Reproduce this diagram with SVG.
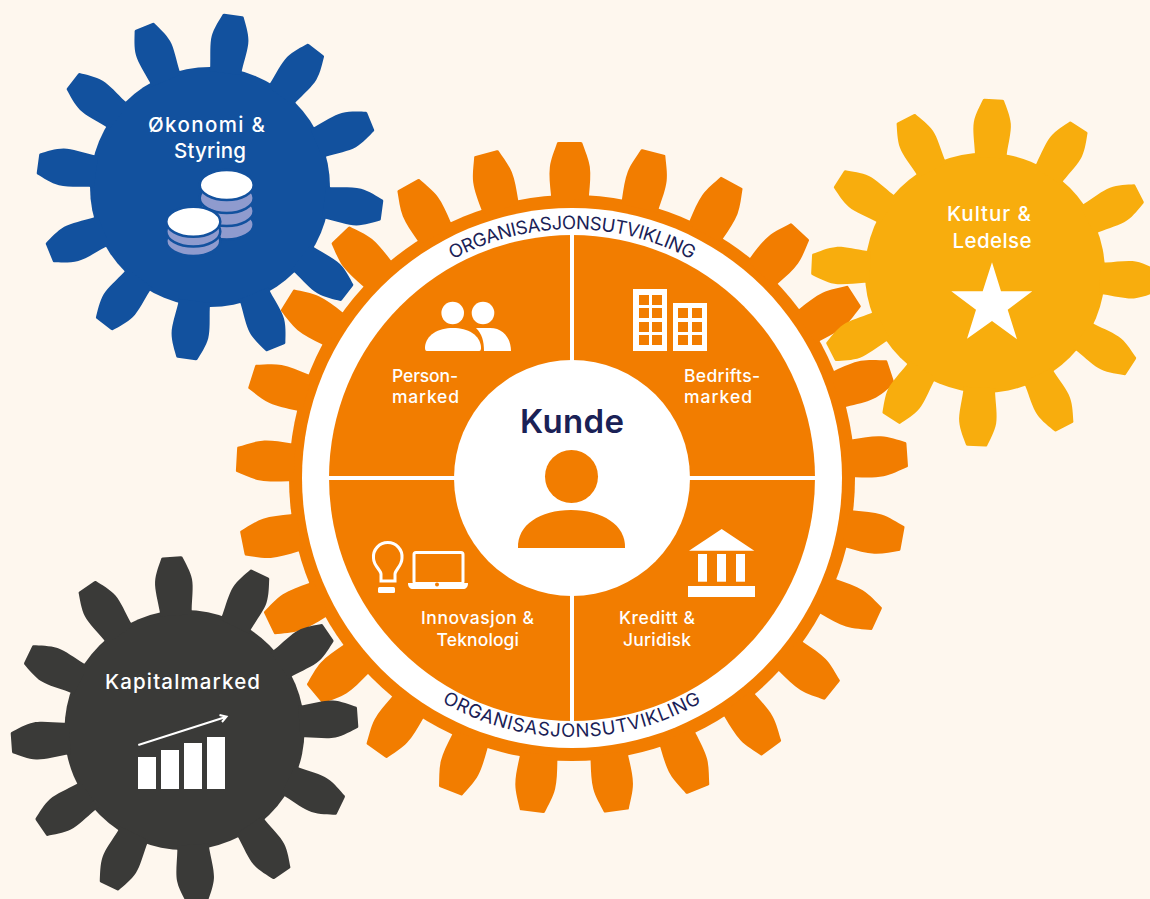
<svg xmlns="http://www.w3.org/2000/svg" xmlns:xlink="http://www.w3.org/1999/xlink" width="1150" height="899" viewBox="0 0 1150 899">
<style>
.lb{font-family:"Inter","Liberation Sans",sans-serif;font-weight:500;fill:#fff}
.s{font-size:17.5px}
.m{font-size:20.5px}
.ring{font-family:"Inter","Liberation Sans",sans-serif;font-size:18.5px;fill:#1a2156}
.w{fill:#fff}
.o{fill:#f27d00}
.pc{fill:#8f9bce;stroke:#12519e;stroke-width:2.500}
</style>
<defs>
<path id="mt" d="M-19,-278L-19,-283C-20,-293 -21,-303 -20,-311C-19,-319 -15,-328 -12.500,-335.500Q-12,-336 -11,-336L11,-336Q12,-336 12.500,-335.500C15,-328 19,-319 20,-311C21,-303 20,-293 19,-283L19,-278Z"/>
<path id="st" d="M-16,-115L-16,-120C-17,-130 -19.500,-142 -18.500,-150C-17.500,-158 -13,-167 -10.500,-173Q-10,-173.600 -9,-173.600L9,-173.600Q10,-173.600 10.500,-173C13,-167 17.500,-158 18.500,-150C19.500,-142 17,-130 16,-120L16,-115Z"/>
<path id="arcTop" d="M323,478A249,249 0 0 1 821,478"/>
<path id="arcBot" d="M313,478A259,259 0 0 0 831,478"/>
</defs>
<rect width="1150" height="899" fill="#fef7ee"/>
<g id="gear-kunde">
<g class="o" transform="translate(572,478)">
<circle r="283"/>
<use href="#mt" transform="rotate(-0.4)"/><use href="#mt" transform="rotate(14)"/><use href="#mt" transform="rotate(28.4)"/><use href="#mt" transform="rotate(42.8)"/><use href="#mt" transform="rotate(57.2)"/><use href="#mt" transform="rotate(71.6)"/><use href="#mt" transform="rotate(86)"/><use href="#mt" transform="rotate(100.4)"/><use href="#mt" transform="rotate(114.8)"/><use href="#mt" transform="rotate(129.2)"/><use href="#mt" transform="rotate(143.6)"/><use href="#mt" transform="rotate(158)"/><use href="#mt" transform="rotate(172.4)"/><use href="#mt" transform="rotate(186.8)"/><use href="#mt" transform="rotate(201.2)"/><use href="#mt" transform="rotate(215.6)"/><use href="#mt" transform="rotate(230)"/><use href="#mt" transform="rotate(244.4)"/><use href="#mt" transform="rotate(258.8)"/><use href="#mt" transform="rotate(273.2)"/><use href="#mt" transform="rotate(287.6)"/><use href="#mt" transform="rotate(302)"/><use href="#mt" transform="rotate(316.4)"/><use href="#mt" transform="rotate(330.8)"/><use href="#mt" transform="rotate(345.2)"/>
</g>
<circle class="w" cx="572" cy="478" r="270"/>
<circle class="o" cx="572" cy="478" r="243"/>
<rect class="w" x="570" y="235" width="4" height="486"/>
<rect class="w" x="329" y="476" width="486" height="4"/>
<circle class="w" cx="572" cy="478" r="118"/>
<text class="ring" letter-spacing="-0.4"><textPath href="#arcTop" startOffset="50%" text-anchor="middle">ORGANISASJONSUTVIKLING</textPath></text>
<text class="ring" letter-spacing="0.7"><textPath href="#arcBot" startOffset="50%" text-anchor="middle">ORGANISASJONSUTVIKLING</textPath></text>
<text x="520" y="433" textLength="104" font-family="Inter,'Liberation Sans',sans-serif" font-weight="600" font-size="33" fill="#1a2156">Kunde</text>
<circle class="o" cx="571.500" cy="476.500" r="26.500"/>
<path class="o" d="M518,548C517,525 540,510 571,510C602,510 626,525 625,548Z"/>
</g>
<g id="personmarked">
<circle class="w" cx="452.700" cy="313" r="11.300"/><circle class="w" cx="483" cy="313" r="11.300"/>
<path class="w" d="M427,351C425,351 425,349 425,347C426,335 438,328 453,328C468,328 480,335 481,347C481,349 481,351 479,351Z"/>
<path class="w" d="M476,328L490,328C503,328 511,338 511,351L484,351C484,341 482,334 476,328Z"/>
<text class="lb s" x="392" y="382" textLength="66">Person-</text><text class="lb s" x="392" y="403" textLength="67">marked</text>
</g>
<g id="bedriftsmarked">
<path class="w" fill-rule="evenodd" d="M633,289H667V351H633ZM639,295V305H649V295ZM652,295V305H662V295ZM639,308V318H649V308ZM652,308V318H662V308ZM639,322V332H649V322ZM652,322V332H662V322ZM639,335V345H649V335ZM652,335V345H662V335Z"/>
<path class="w" fill-rule="evenodd" d="M673,303H707V351H673ZM678,308V318H688V308ZM692,308V318H702V308ZM678,322V332H688V322ZM692,322V332H702V322ZM678,335V345H688V335ZM692,335V345H702V335Z"/>
<text class="lb s" x="684" y="382" textLength="76">Bedrifts-</text><text class="lb s" x="684" y="403" textLength="68">marked</text>
</g>
<g id="innovasjon">
<path d="M381,581V574C381,570 373.500,566 373.500,558A14.300,14.300 0 1 1 402,558C402,566 395,570 395,574V581Z" fill="none" stroke="#fff" stroke-width="3"/>
<rect class="w" x="378" y="587" width="17" height="6" rx="1.500"/>
<rect x="414" y="552.500" width="49" height="31" rx="2" fill="none" stroke="#fff" stroke-width="3"/>
<path class="w" d="M408,583H468C468,587 466,589 463,589H413C410,589 408,587 408,583Z"/>
<circle class="o" cx="437" cy="584.500" r="2"/>
<text class="lb s" x="421" y="624" textLength="113">Innovasjon &amp;</text><text class="lb s" x="436.600" y="646" textLength="82.400">Teknologi</text>
</g>
<g id="kreditt">
<polygon class="w" points="721.700,529 754.300,550.700 689,550.700"/>
<rect class="w" x="698" y="554" width="9" height="27.700"/><rect class="w" x="717" y="554" width="9" height="27.700"/><rect class="w" x="736" y="554" width="9" height="27.700"/>
<rect class="w" x="688" y="586" width="67" height="11"/>
<text class="lb s" x="619" y="624" textLength="76">Kreditt &amp;</text><text class="lb s" x="623" y="646" textLength="68">Juridisk</text>
</g>
<g id="gear-okonomi">
<g fill="#12519e" transform="translate(210,187)">
<circle r="120"/>
<use href="#st" transform="rotate(7.7)"/><use href="#st" transform="rotate(37.7)"/><use href="#st" transform="rotate(67.7)"/><use href="#st" transform="rotate(97.7)"/><use href="#st" transform="rotate(127.7)"/><use href="#st" transform="rotate(157.7)"/><use href="#st" transform="rotate(187.7)"/><use href="#st" transform="rotate(217.7)"/><use href="#st" transform="rotate(247.7)"/><use href="#st" transform="rotate(277.7)"/><use href="#st" transform="rotate(307.7)"/><use href="#st" transform="rotate(337.7)"/>
</g>
<text class="lb m" x="148" y="132" textLength="117">Økonomi &amp;</text><text class="lb m" x="174" y="158" textLength="72">Styring</text>
<ellipse class="pc" cx="226.700" cy="224.500" rx="27" ry="15"/><ellipse class="pc" cx="226.700" cy="211" rx="27" ry="15"/><ellipse class="pc" cx="226.700" cy="198" rx="27" ry="15"/>
<ellipse class="w" cx="226.700" cy="185" rx="27" ry="15" stroke="#12519e" stroke-width="2.500"/>
<ellipse class="pc" cx="193.300" cy="241" rx="27" ry="15"/><ellipse class="pc" cx="193.300" cy="231.500" rx="27" ry="15"/>
<ellipse class="w" cx="193.300" cy="221.700" rx="27" ry="15" stroke="#12519e" stroke-width="2.500"/>
</g>
<g id="gear-kultur">
<g fill="#f8ad0d" transform="translate(985,272.700)">
<circle r="120"/>
<use href="#st" transform="rotate(2.8)"/><use href="#st" transform="rotate(32.8)"/><use href="#st" transform="rotate(62.8)"/><use href="#st" transform="rotate(92.8)"/><use href="#st" transform="rotate(122.8)"/><use href="#st" transform="rotate(152.8)"/><use href="#st" transform="rotate(182.8)"/><use href="#st" transform="rotate(212.8)"/><use href="#st" transform="rotate(242.8)"/><use href="#st" transform="rotate(272.8)"/><use href="#st" transform="rotate(302.8)"/><use href="#st" transform="rotate(332.8)"/>
</g>
<text class="lb m" x="947" y="221" textLength="84">Kultur &amp;</text><text class="lb m" x="952.600" y="248" textLength="79">Ledelse</text>
<polygon class="w" points="992,262.300 1001,291.300 1032.300,291.300 1007.700,309.700 1017,339.300 992,321 967,338.700 976,309.700 951.300,291.300 982.700,291.300"/>
</g>
<g id="gear-kapitalmarked">
<g fill="#3a3a38" transform="translate(184.500,730)">
<circle r="120"/>
<use href="#st" transform="rotate(-4.2)"/><use href="#st" transform="rotate(25.8)"/><use href="#st" transform="rotate(55.8)"/><use href="#st" transform="rotate(85.8)"/><use href="#st" transform="rotate(115.8)"/><use href="#st" transform="rotate(145.8)"/><use href="#st" transform="rotate(175.8)"/><use href="#st" transform="rotate(205.8)"/><use href="#st" transform="rotate(235.8)"/><use href="#st" transform="rotate(265.8)"/><use href="#st" transform="rotate(295.8)"/><use href="#st" transform="rotate(325.8)"/>
</g>
<text class="lb m" x="105" y="689" textLength="155">Kapitalmarked</text>
<path d="M138.300,745L226.500,716.700M219.500,715L226.500,716.700L222,722" fill="none" stroke="#fff" stroke-width="2"/>
<rect class="w" x="138" y="757" width="18" height="32"/><rect class="w" x="161" y="750" width="18" height="39"/><rect class="w" x="184" y="743" width="18" height="46"/><rect class="w" x="207" y="737" width="18" height="52"/>
</g>
</svg>
